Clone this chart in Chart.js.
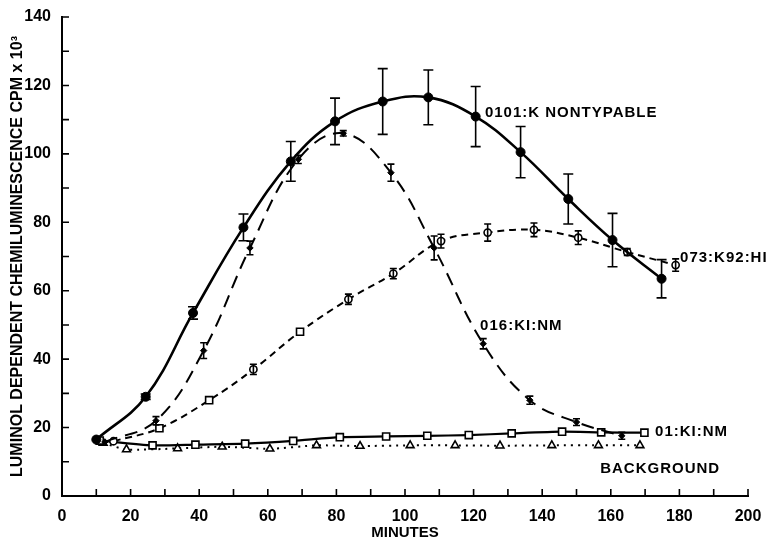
<!DOCTYPE html>
<html>
<head>
<meta charset="utf-8">
<script src="https://cdn.jsdelivr.net/npm/chart.js@4.4.1/dist/chart.umd.min.js"></script>
<style>
  html, body { margin: 0; padding: 0; background: #fff; }
  #wrap { width: 771px; height: 542px; }
</style>
</head>
<body>
<div id="wrap"><canvas id="chart"></canvas></div>
<script>
// 0101:K NONTYPABLE
const minutesNontyp = [10, 24.4, 38.2, 52.9, 66.7, 79.6, 93.5, 106.8, 120.6, 133.7, 147.6, 160.5, 174.8];
const cpmNontyp     = [16.5, 29, 53.5, 78.5, 97.8, 109.5, 115.3, 116.5, 110.9, 100.5, 86.8, 74.8, 63.5];
const errNontyp     = [0, 0.8, 1.8, 3.9, 5.8, 6.8, 9.6, 8, 8.8, 7.5, 7.3, 7.8, 5.6];

// 016:KI:NM
const minutes016 = [12.5, 27.4, 41.3, 54.8, 68.9, 82, 95.9, 108.5, 122.8, 136.4, 150, 163.2];
const cpm016     = [15.8, 22, 42.5, 72.5, 98.4, 106, 94.5, 72.5, 44.5, 28, 21.6, 17.6];
const err016     = [0, 1.2, 2.3, 2, 1.2, 0.8, 2.5, 3.5, 1.5, 1.2, 1, 1];

// 073:K92:HI
const minutes073 = [15, 28.4, 42.9, 55.8, 69.4, 83.5, 96.6, 110.5, 124.1, 137.6, 150.5, 164.8, 178.9];
const cpm073     = [16, 19.8, 28, 37, 48, 57.5, 65, 74.5, 77, 77.8, 75.5, 71.3, 67.5];
const err073     = [0, 0, 0, 1.5, 0, 1.5, 1.5, 2, 2.5, 2, 2, 1, 1.8];
const marks073   = ['circle', 'rect', 'rect', 'circle', 'rect', 'circle', 'circle', 'circle', 'circle', 'circle', 'circle', 'circle', 'circle'];

// 01:KI:NM
const minutes01 = [11, 26.4, 38.9, 53.4, 67.4, 81, 94.5, 106.5, 118.6, 131.1, 145.8, 157.2, 169.8];
const cpm01     = [16.2, 14.8, 15, 15.3, 16.1, 17.2, 17.4, 17.6, 17.8, 18.3, 18.8, 18.6, 18.5];

// BACKGROUND
const minutesBg = [12, 18.8, 33.7, 46.7, 60.6, 74.2, 86.9, 101.5, 114.6, 127.7, 142.8, 156.4, 168.5];
const cpmBg     = [15.5, 13.6, 13.9, 14.4, 13.8, 14.8, 14.6, 14.8, 14.8, 14.7, 14.8, 14.8, 14.8];

// curve labels, anchored in data units (minutes, cpm)
const curveLabels = [
    {text: '0101:K NONTYPABLE', x: 123.3, y: 112},
    {text: '073:K92:HI', x: 180.2, y: 69.6},
    {text: '016:KI:NM', x: 121.9, y: 49.7},
    {text: '01:KI:NM', x: 172.9, y: 18.7},
    {text: 'BACKGROUND', x: 156.9, y: 7.9}
];

const xTicks = [0, 20, 40, 60, 80, 100, 120, 140, 160, 180, 200];
const yTicks = [0, 20, 40, 60, 80, 100, 120, 140];

const pts = (xs, ys) => xs.map((x, i) => ({x: x, y: ys[i]}));
const FONT = "'Liberation Sans', Arial, Helvetica, sans-serif";

Chart.defaults.font.family = FONT;
Chart.defaults.font.weight = 'bold';
Chart.defaults.font.size = 16;
Chart.defaults.color = '#000';

// error bars with caps
const errorBars = {
    id: 'errorBars',
    afterDatasetsDraw(chart) {
        const ctx = chart.ctx;
        const xs = chart.scales.x, ys = chart.scales.y;
        ctx.save();
        ctx.strokeStyle = '#000';
        ctx.lineWidth = 1.6;
        chart.data.datasets.forEach(ds => {
            if (!ds.errors) return;
            ds.data.forEach((p, i) => {
                const e = ds.errors[i];
                if (!e) return;
                const px = xs.getPixelForValue(p.x);
                const top = ys.getPixelForValue(p.y + e);
                const bot = ys.getPixelForValue(p.y - e);
                const c = ds.capWidth || 4;
                ctx.beginPath();
                ctx.moveTo(px, top); ctx.lineTo(px, bot);
                ctx.moveTo(px - c, top); ctx.lineTo(px + c, top);
                ctx.moveTo(px - c, bot); ctx.lineTo(px + c, bot);
                ctx.stroke();
            });
        });
        ctx.restore();
    }
};

// inward tick marks + curve labels
const decorations = {
    id: 'decorations',
    afterDraw(chart) {
        const ctx = chart.ctx;
        const xs = chart.scales.x, ys = chart.scales.y;
        const area = chart.chartArea;
        ctx.save();
        ctx.strokeStyle = '#000';
        ctx.lineWidth = 1.6;
        ctx.beginPath();
        for (let v = 0; v <= 200; v += 10) {
            const px = xs.getPixelForValue(v);
            ctx.moveTo(px, area.bottom); ctx.lineTo(px, area.bottom - 7);
        }
        for (let v = 0; v <= 140; v += 10) {
            const py = ys.getPixelForValue(v);
            ctx.moveTo(area.left, py); ctx.lineTo(area.left + 7, py);
        }
        ctx.stroke();

        ctx.fillStyle = '#000';
        ctx.font = 'bold 15px ' + FONT;
        ctx.textBaseline = 'middle';
        ctx.textAlign = 'left';
        if ('letterSpacing' in ctx) ctx.letterSpacing = '1px';
        curveLabels.forEach(l => {
            ctx.fillText(l.text, xs.getPixelForValue(l.x), ys.getPixelForValue(l.y));
        });
        ctx.restore();
    }
};

new Chart(document.getElementById('chart'), {
    type: 'scatter',
    data: {
        datasets: [
            {
                label: '0101:K NONTYPABLE',
                data: pts(minutesNontyp, cpmNontyp),
                errors: errNontyp,
                capWidth: 5,
                showLine: true,
                borderColor: '#000',
                borderWidth: 2.6,
                tension: 0.4,
                pointStyle: 'circle',
                pointRadius: 4.5,
                pointBackgroundColor: '#000',
                pointBorderColor: '#000',
                pointBorderWidth: 1
            },
            {
                label: '016:KI:NM',
                data: pts(minutes016, cpm016),
                errors: err016,
                capWidth: 3.5,
                showLine: true,
                borderColor: '#000',
                borderWidth: 2,
                borderDash: [13, 8],
                tension: 0.4,
                pointStyle: 'rectRot',
                pointRadius: 3.2,
                pointBackgroundColor: '#000',
                pointBorderColor: '#000',
                pointBorderWidth: 1
            },
            {
                label: '073:K92:HI',
                data: pts(minutes073, cpm073),
                errors: err073,
                capWidth: 3.5,
                showLine: true,
                borderColor: '#000',
                borderWidth: 2,
                borderDash: [7, 5],
                tension: 0.4,
                pointStyle: marks073,
                pointRadius: marks073.map(s => s === 'rect' ? 5 : 3.6),
                pointBackgroundColor: '#fff',
                pointBorderColor: '#000',
                pointBorderWidth: 1.6
            },
            {
                label: '01:KI:NM',
                data: pts(minutes01, cpm01),
                showLine: true,
                borderColor: '#000',
                borderWidth: 2.2,
                tension: 0.2,
                pointStyle: 'rect',
                pointRadius: 5,
                pointBackgroundColor: '#fff',
                pointBorderColor: '#000',
                pointBorderWidth: 1.6
            },
            {
                label: 'BACKGROUND',
                data: pts(minutesBg, cpmBg),
                showLine: true,
                borderColor: '#000',
                borderWidth: 2,
                borderDash: [2, 5],
                tension: 0.2,
                pointStyle: 'triangle',
                pointRadius: 4.5,
                pointBackgroundColor: '#fff',
                pointBorderColor: '#000',
                pointBorderWidth: 1.6
            }
        ]
    },
    options: {
        responsive: true,
        maintainAspectRatio: false,
        animation: false,
        layout: {padding: {top: 17, right: 23, left: 0, bottom: 0}},
        plugins: {legend: {display: false}, tooltip: {enabled: false}},
        scales: {
            x: {
                type: 'linear',
                min: 0, max: 200,
                afterFit: s => { s.height = 46; },
                afterBuildTicks: s => { s.ticks = xTicks.map(v => ({value: v})); },
                grid: {display: false},
                border: {display: true, color: '#000', width: 2},
                ticks: {padding: 3, maxRotation: 0, autoSkip: false, font: {size: 16, weight: 'bold'}},
                title: {display: true, text: 'MINUTES', font: {size: 15, weight: 'bold'}, padding: {top: 0, bottom: 0}}
            },
            y: {
                type: 'linear',
                min: 0, max: 140,
                afterFit: s => { s.width = 62; },
                afterBuildTicks: s => { s.ticks = yTicks.map(v => ({value: v})); },
                grid: {display: false},
                border: {display: true, color: '#000', width: 2},
                ticks: {padding: 3, autoSkip: false, font: {size: 16, weight: 'bold'}},
                title: {display: true, text: 'LUMINOL DEPENDENT CHEMILUMINESCENCE CPM x 10³', font: {size: 16, weight: 'bold'}, padding: {top: 8, bottom: 0}}
            }
        }
    },
    plugins: [errorBars, decorations]
});
</script>
</body>
</html>
